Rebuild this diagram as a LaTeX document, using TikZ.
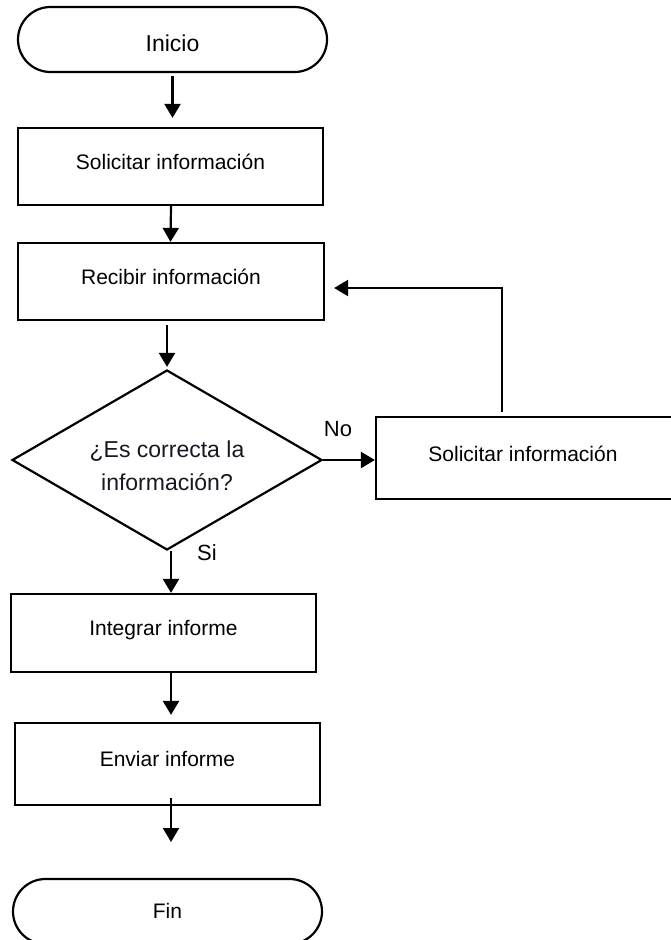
\documentclass[tikz,border=0pt]{standalone}
\usepackage{fontspec}
\setmainfont{Liberation Sans}
\usetikzlibrary{shapes.geometric,shapes.misc,arrows.meta,calc}
\definecolor{qtext}{RGB}{22,24,34}
\begin{document}
\begin{tikzpicture}[x=1pt,y=-1pt,
  line width=2.2pt,
  terminal/.style={draw, rounded rectangle, minimum width=309pt, minimum height=65pt, inner sep=0pt, text height=24pt, text depth=0pt, font=\fontsize{23}{27}\selectfont},
  procbox/.style={draw, rectangle, minimum width=305pt, minimum height=77pt, inner sep=0pt, text depth=10pt, font=\fontsize{21}{25}\selectfont},
  decision/.style={draw, diamond, minimum width=310pt, minimum height=180pt, inner sep=0pt},
  dtext/.style={align=center, text=qtext, inner sep=0pt, font=\fontsize{23}{33}\selectfont},
  lbl/.style={font=\fontsize{22}{26}\selectfont, inner sep=0pt},
  arr/.style={-{Triangle[length=14pt,width=16pt]}}
]
\useasboundingbox (0,0) rectangle (671,940);

\node[terminal] (ini) at (172.5,39.5) {Inicio};
\node[procbox] (b1) at (170.5,166.5) {Solicitar información};
\node[procbox, minimum width=306pt] (b2) at (171,281.5) {Recibir información};
\node[decision] (dia) at (167,460) {};
\node[dtext] (diatext) at (167,466) {¿Es correcta la\\información?};
\node[procbox, minimum width=304pt, minimum height=82pt, text depth=8pt] (b3) at (528,458) {\hspace*{-10pt}Solicitar información};
\node[procbox, minimum height=78pt] (b4) at (163.5,633) {Integrar informe};
\node[procbox, minimum height=82pt] (b5) at (167.5,764) {Enviar informe};
\node[terminal, font=\fontsize{21}{25}\selectfont, text height=15pt, text depth=2pt] (fin) at (167.5,911.5) {Fin};

\node[lbl] (no) at (338,429) {No};
\node[lbl] (si) at (207,553) {Si};

\coordinate (endfin) at (171,842);
\coordinate (fbtop) at (502,288);

\draw[arr, shorten <=3pt, shorten >=9pt] (ini.south) -- (ini.south |- b1.north);
\draw[arr] (b1.south -| endfin) -- (b1.north |- b2.north);
\draw[arr, shorten <=4pt, shorten >=2pt] (dia.north |- b2.south) -- (dia.north);
\draw[arr] (dia.east) -- (dia.east -| b3.west);
\draw[arr, shorten <=4pt, shorten >=9pt] (fbtop |- b3.north) -- (fbtop) -- (fbtop -| b2.east);
\draw[arr] (dia.south -| endfin) -- (b4.north -| endfin);
\draw[arr, shorten >=7pt] (b4.south -| endfin) -- (b5.north -| endfin);
\draw[arr] ($(b5.south -| endfin)+(0,-8)$) -- (endfin);
\end{tikzpicture}
\end{document}
